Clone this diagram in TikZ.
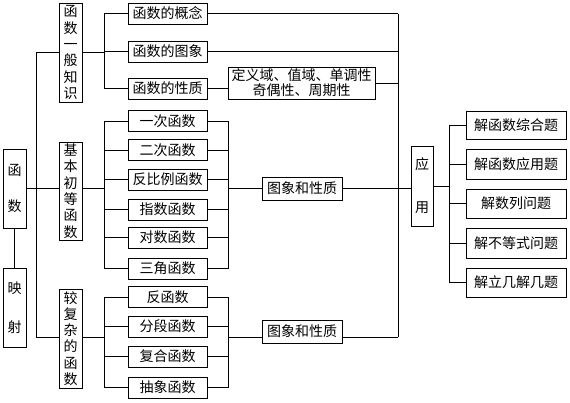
\documentclass[tikz,border=0pt]{standalone}
\usepackage{fontspec}
\newfontfamily\cjk{Noto Sans CJK SC}
\begin{document}
\begin{tikzpicture}[x=1pt,y=-1pt, line width=0.9pt,
 bx/.style={draw, inner sep=0pt, align=center, font=\cjk\fontsize{14}{16.3}\selectfont},
 vbox/.style={bx, minimum width=23pt, minimum height=99pt},
 lbox/.style={bx, minimum width=79pt, minimum height=21pt},
 rbox/.style={bx, minimum width=100pt, minimum height=29pt},
 pbox/.style={bx, minimum width=80pt, minimum height=23pt}]
\useasboundingbox (0,0) rectangle (570,402);
% left column
\node[bx,minimum width=23pt,minimum height=79pt] (hs) at (14.5,188.5) {函\\[19pt]数};
\node[bx,minimum width=23pt,minimum height=79pt] (ys) at (14.5,307.5) {映\\[23pt]射};
\node[vbox] (g1) at (70.5,52.5) {函\\数\\一\\般\\知\\识};
\node[vbox,minimum height=98pt] (g2) at (70.5,191) {基\\本\\初\\等\\函\\数};
\node[vbox] (g3) at (70.5,338.5) {较\\复\\杂\\的\\函\\数};
% group 1
\node[lbox] (a1) at (167.5,13.5) {函数的概念};
\node[lbox] (a2) at (167.5,51.5) {函数的图象};
\node[lbox] (a3) at (167.5,88.5) {函数的性质};
\node[bx,minimum width=147pt,minimum height=32pt,font=\cjk\fontsize{14}{15}\selectfont] (d) at (301.5,83) {定义域、值域、单调性\\奇偶性、周期性};
% group 2
\node[lbox] (b1) at (167.5,121) {一次函数};
\node[lbox] (b2) at (167.5,150) {二次函数};
\node[lbox] (b3) at (167.5,179.5) {反比例函数};
\node[lbox] (b4) at (167.5,209.5) {指数函数};
\node[lbox] (b5) at (167.5,237.5) {对数函数};
\node[lbox] (b6) at (167.5,268.5) {三角函数};
% group 3
\node[lbox] (c1) at (167.5,297) {反函数};
\node[lbox] (c2) at (167.5,326.5) {分段函数};
\node[lbox] (c3) at (167.5,356.5) {复合函数};
\node[lbox] (c4) at (167.5,387.5) {抽象函数};
\node[pbox] (p1) at (302,188.5) {图象和性质};
\node[pbox] (p2) at (302,331.5) {图象和性质};
% right
\node[bx,minimum width=22pt,minimum height=80pt] (yy) at (422,186) {应\\[27pt]用};
\node[rbox,minimum height=28pt] (r1) at (516,125) {解函数综合题};
\node[rbox,minimum height=30pt] (r2) at (516,164) {解函数应用题};
\node[rbox] (r3) at (516,203.5) {解数列问题};
\node[rbox,minimum height=30pt] (r4) at (516,243) {解不等式问题};
\node[rbox] (r5) at (516,282.5) {解立几解几题};
% coordinates
\coordinate (t1) at (36,52.5);
\coordinate (t3) at (36,337);
\coordinate (v1a) at (104,13.5);
\coordinate (v1b) at (104,88.5);
\coordinate (v2a) at (104,121);
\coordinate (v2b) at (104,268.5);
\coordinate (w2a) at (228,121);
\coordinate (w2b) at (228,268.5);
\coordinate (v3a) at (104,297);
\coordinate (v3b) at (104,387.5);
\coordinate (w3a) at (228,297);
\coordinate (w3b) at (228,387.5);
\coordinate (R1) at (398,13.5);
\coordinate (R2) at (398,337);
\coordinate (Ra) at (449,125);
\coordinate (Rb) at (449,282.5);
% left connectors
\draw (hs.south) -- (ys.north);
\draw (t1) -- (t3);
\draw (t1) -- (t1 -| g1.west);
\draw (hs.east) -- (hs.east -| g2.west);
\draw (t3) -- (t3 -| g3.west);
% group 1 connectors
\draw (v1a) -- (v1b);
\draw (g1.east) -- (g1.east -| v1a);
\draw (v1a) -- (a1.west);
\draw (a2.west -| v1a) -- (a2.west);
\draw (v1b) -- (a3.west);
\draw (a1.east) -- (R1);
\draw (a2.east) -- (a2.east -| R1);
\draw (a3.east) -- (a3.east -| d.west);
\draw (d.east) -- (d.east -| R1);
% group 2 connectors
\draw (v2a) -- (v2b);
\draw (w2a) -- (w2b);
\draw (hs.east -| g2.east) -- (hs.east -| v2a);
\foreach \n in {b1,b2,b3,b4,b5,b6}{
  \draw (\n.west -| v2a) -- (\n.west);
  \draw (\n.east) -- (\n.east -| w2a);
}
\draw (p1.west -| w2a) -- (p1.west);
\draw (p1.east) -- (p1.east -| yy.west);
% group 3 connectors
\draw (v3a) -- (v3b);
\draw (w3a) -- (w3b);
\draw (t3 -| g3.east) -- (t3 -| v3a);
\foreach \n in {c1,c2,c3,c4}{
  \draw (\n.west -| v3a) -- (\n.west);
  \draw (\n.east) -- (\n.east -| w3a);
}
\draw (t3 -| w3a) -- (t3 -| p2.west);
\draw (t3 -| p2.east) -- (R2);
% right trunk
\draw (R1) -- (R2);
\draw (yy.east) -- (yy.east -| Ra);
\draw (Ra) -- (Rb);
\foreach \n in {r1,r2,r3,r4,r5}{
  \draw (\n.west -| Ra) -- (\n.west);
}
\end{tikzpicture}
\end{document}
